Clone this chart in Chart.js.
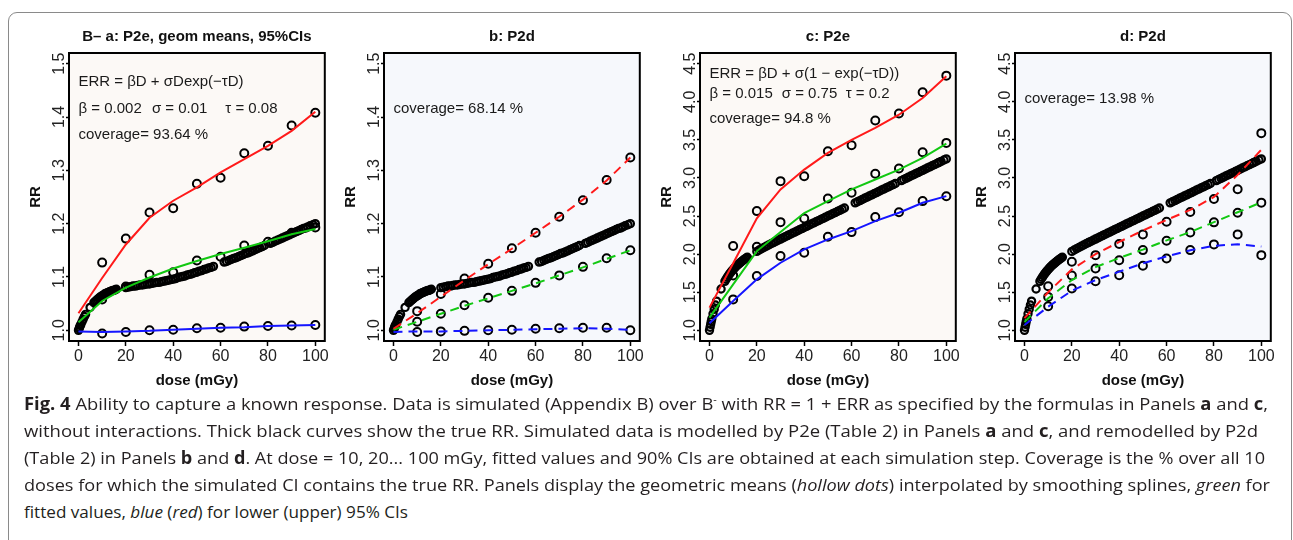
<!DOCTYPE html>
<html><head><meta charset="utf-8">
<script src="https://cdn.jsdelivr.net/npm/chart.js@4.4.0/dist/chart.umd.min.js"></script>
<style>
html,body{margin:0;padding:0;background:#fff;width:1293px;height:540px;overflow:hidden;position:relative;}
#frame{position:absolute;left:8px;top:12px;width:1284px;height:600px;border:1.5px solid #8a8a8a;border-radius:9px;box-sizing:border-box;}
canvas{position:absolute;top:20px;}
#caption{position:absolute;left:24px;top:0;font-family:"Open Sans",sans-serif;font-size:17px;color:#231f20;}
.ln{position:absolute;left:0;white-space:nowrap;transform-origin:0 50%;line-height:27px;height:27px;}
.ln b{font-weight:700;}
.ln sup{font-size:10px;line-height:0;vertical-align:7px;}
</style></head><body>
<div id="frame"></div>
<canvas id="ca" width="313" height="371" style="left:18px"></canvas>
<canvas id="cb" width="313" height="371" style="left:333px"></canvas>
<canvas id="cc" width="313" height="371" style="left:649px"></canvas>
<canvas id="cd" width="313" height="371" style="left:964px"></canvas>
<div id="caption">
<div class="ln" data-w="1244" style="top:390px"><b>Fig. 4</b> Ability to capture a known response. Data is simulated (Appendix B) over B<sup>-</sup> with RR = 1 + ERR as specified by the formulas in Panels <b>a</b> and <b>c</b>,</div>
<div class="ln" data-w="1234" style="top:417px">without interactions. Thick black curves show the true RR. Simulated data is modelled by P2e (Table 2) in Panels <b>a</b> and <b>c</b>, and remodelled by P2d</div>
<div class="ln" data-w="1241" style="top:444px">(Table 2) in Panels <b>b</b> and <b>d</b>. At dose = 10, 20... 100 mGy, fitted values and 90% CIs are obtained at each simulation step. Coverage is the % over all 10</div>
<div class="ln" data-w="1246" style="top:471px">doses for which the simulated CI contains the true RR. Panels display the geometric means (<i>hollow dots</i>) interpolated by smoothing splines, <i>green</i> for</div>
<div class="ln" data-w="384" style="top:498px">fitted values, <i>blue</i> (<i>red</i>) for lower (upper) 95% CIs</div>
</div>
<script>
// ---------------- data ----------------
const X_TICKS = [0, 20, 40, 60, 80, 100];
const Y_TICKS_AB = [1.0, 1.1, 1.2, 1.3, 1.4, 1.5];
const Y_TICKS_CD = [1.0, 1.5, 2.0, 2.5, 3.0, 3.5, 4.0, 4.5];
const LINE_DOSES = [0, 10, 20, 30, 40, 50, 60, 70, 80, 90, 100];
const MEAN_DOSES = [10, 20, 30, 40, 50, 60, 70, 80, 90, 100];

// true RR (thick black curve made of many hollow points)
const TRUE_DOSE = [0,0.25,0.5,0.75,1,1.5,2,2.5,3,4.9,
 6.5,7,7.5,8,8.5,9,9.5,10,10.5,11,11.5,12,12.5,13,13.5,14,14.5,15,15.5,16,
 20,21,22,23,24,25,26,27,28,29,30,31,32,33,34,35,36,37,38,39,40,41,42,43,44,45,46,47,48,49,50,51,52,53,54,55,56,57,
 61.5,62.5,63.5,64.5,65.5,66.5,67.5,68.5,69.5,70.5,71.5,72.5,73.5,74.5,75.5,76.5,77.5,78.5,
 81,82,83,84,85,86,87,88,89,90,91,92,93,94,95,96,96.8,97.8,99,100];
const TRUE_RR_AB = [1.000,1.003,1.006,1.009,1.011,1.016,1.021,1.026,1.030,1.043,
 1.052,1.054,1.056,1.058,1.060,1.062,1.063,1.065,1.066,1.068,1.069,1.070,1.071,1.072,1.073,1.074,1.075,1.075,1.076,1.077,
 1.080,1.081,1.082,1.083,1.083,1.084,1.085,1.085,1.086,1.087,1.087,1.088,1.089,1.090,1.090,1.091,1.092,1.093,1.094,1.095,1.096,1.097,1.099,1.100,1.101,1.102,1.104,1.105,1.106,1.108,1.109,1.111,1.112,1.114,1.115,1.117,1.118,1.120,
 1.128,1.129,1.131,1.133,1.135,1.136,1.138,1.140,1.142,1.144,1.145,1.147,1.149,1.151,1.153,1.155,1.157,1.159,
 1.163,1.165,1.167,1.169,1.171,1.173,1.175,1.177,1.179,1.181,1.183,1.185,1.187,1.189,1.191,1.192,1.194,1.196,1.198,1.200];
const TRUE_RR_CD = [1.000,1.040,1.079,1.116,1.151,1.217,1.277,1.333,1.383,1.542,
 1.643,1.670,1.695,1.719,1.741,1.761,1.780,1.799,1.816,1.832,1.847,1.862,1.876,1.889,1.902,1.914,1.926,1.938,1.949,1.959,
 2.036,2.054,2.071,2.087,2.104,2.120,2.136,2.152,2.167,2.183,2.198,2.214,2.229,2.244,2.259,2.274,2.289,2.305,2.320,2.335,2.350,2.365,2.380,2.395,2.410,2.425,2.440,2.455,2.470,2.485,2.500,2.515,2.530,2.545,2.560,2.575,2.590,2.605,
 2.673,2.688,2.703,2.718,2.733,2.748,2.763,2.778,2.793,2.808,2.823,2.838,2.853,2.868,2.883,2.898,2.913,2.928,
 2.965,2.980,2.995,3.010,3.025,3.040,3.055,3.070,3.085,3.100,3.115,3.130,3.145,3.160,3.175,3.190,3.202,3.217,3.235,3.250];

// panel a (P2e fit of true model a)
const A_UP_PTS  = [1.127,1.172,1.221,1.229,1.275,1.286,1.332,1.346,1.384,1.408];
const A_UP_LINE = [1.032,1.098,1.161,1.211,1.243,1.268,1.296,1.321,1.346,1.374,1.410];
const A_FIT_PTS = [1.058,1.082,1.104,1.109,1.131,1.138,1.159,1.166,1.183,1.193];
const A_FIT_LINE= [1.015,1.055,1.080,1.099,1.116,1.130,1.143,1.155,1.167,1.180,1.190];
const A_LO_PTS  = [0.994,0.997,1.000,1.001,1.004,1.005,1.007,1.008,1.009,1.010];
const A_LO_LINE = [0.998,0.997,0.998,0.999,1.001,1.003,1.005,1.006,1.008,1.009,1.010];
// panel b (P2d)
const B_UP_PTS  = [1.036,1.068,1.097,1.125,1.154,1.183,1.213,1.244,1.282,1.324];
const B_UP_LINE = [1.003,1.032,1.063,1.094,1.124,1.153,1.183,1.213,1.245,1.281,1.324];
const B_FIT_PTS = [1.016,1.031,1.047,1.061,1.074,1.089,1.103,1.119,1.135,1.150];
const B_FIT_LINE= [1.001,1.016,1.031,1.046,1.060,1.074,1.088,1.103,1.118,1.134,1.150];
const B_LO_PTS  = [0.997,0.998,0.999,1.000,1.001,1.003,1.004,1.005,1.005,1.000];
const B_LO_LINE = [0.997,0.998,0.998,0.999,1.000,1.001,1.002,1.003,1.004,1.003,1.001];
// panel c (P2e)
const C_UP_PTS  = [2.106,2.565,2.958,3.023,3.351,3.430,3.753,3.845,4.125,4.343];
const C_UP_LINE = [1.298,1.880,2.470,2.850,3.110,3.330,3.500,3.657,3.830,4.050,4.335];
const C_FIT_PTS = [1.721,2.097,2.420,2.468,2.730,2.805,3.054,3.124,3.338,3.460];
const C_FIT_LINE= [1.166,1.603,2.040,2.290,2.540,2.696,2.850,2.980,3.110,3.264,3.450];
const C_LO_PTS  = [1.406,1.712,1.975,2.018,2.228,2.289,2.486,2.551,2.696,2.761];
const C_LO_LINE = [1.092,1.385,1.669,1.887,2.062,2.193,2.302,2.433,2.543,2.674,2.761];
// panel d (P2d)
const D_UP_PTS  = [1.579,1.899,1.987,2.132,2.259,2.426,2.553,2.724,2.851,3.588];
const D_UP_LINE = [1.16,1.50,1.80,2.00,2.16,2.31,2.45,2.58,2.75,3.04,3.37];
const D_FIT_PTS = [1.439,1.720,1.812,1.921,2.053,2.176,2.285,2.417,2.544,2.676];
const D_FIT_LINE= [1.11,1.42,1.66,1.83,1.95,2.06,2.18,2.29,2.42,2.55,2.68];
const D_LO_PTS  = [1.316,1.549,1.645,1.724,1.847,1.943,2.053,2.128,2.259,1.987];
const D_LO_LINE = [1.07,1.31,1.52,1.66,1.77,1.88,1.97,2.05,2.11,2.13,2.10];

// ---------------- drawing ----------------
const FONT = "'Liberation Sans', Arial, Helvetica, sans-serif";
const RED = '#ff1a1a', GREEN = '#12c812', BLUE = '#1515ff';
const pts = (xs, ys) => xs.map((x, i) => ({x, y: ys[i]}));

const boxPlugin = {
  id: 'rbox',
  beforeDraw(chart, args, opts) {
    const {ctx, chartArea: a} = chart;
    ctx.save(); ctx.fillStyle = opts.bg;
    ctx.fillRect(a.left, a.top, a.width, a.height); ctx.restore();
  },
  afterDraw(chart, args, opts) {
    const {ctx, chartArea: a, scales} = chart;
    ctx.save();
    ctx.fillStyle = '#1a1a1a'; ctx.font = '15px ' + FONT;
    ctx.textBaseline = 'middle'; ctx.textAlign = 'left';
    for (const t of opts.texts) ctx.fillText(t.s, scales.x.getPixelForValue(t.x), scales.y.getPixelForValue(t.y));
    ctx.strokeStyle = '#000'; ctx.lineWidth = 2;
    ctx.strokeRect(a.left, a.top, a.width, a.height);
    ctx.restore();
  }
};

function makePanel(id, p) {
  const dash = p.dashed ? [9, 6] : [];
  const lineDs = (ys, color) => ({data: pts(LINE_DOSES, ys), showLine: true, borderColor: color, borderWidth: 2,
    borderDash: dash, pointRadius: 0, tension: 0, fill: false, order: 1});
  const meanDs = ys => ({data: pts(MEAN_DOSES, ys), showLine: false, pointRadius: 4, pointBorderWidth: 2,
    pointBorderColor: '#000', pointBackgroundColor: 'rgba(0,0,0,0)', order: 2});
  new Chart(document.getElementById(id), {
    type: 'scatter',
    data: {datasets: [
      {data: pts(TRUE_DOSE, p.trueRR), showLine: false, pointRadius: 3.6, pointBorderWidth: 2.2,
        pointBorderColor: '#000', pointBackgroundColor: 'rgba(0,0,0,0)', order: 3},
      meanDs(p.up), meanDs(p.fit), meanDs(p.lo),
      lineDs(p.upLine, RED), lineDs(p.fitLine, GREEN), lineDs(p.loLine, BLUE)
    ]},
    options: {
      responsive: false, animation: false, devicePixelRatio: 1,
      layout: {padding: {left: 0, right: 6, top: 0, bottom: 0}},
      plugins: {
        legend: {display: false}, tooltip: {enabled: false},
        title: {display: true, text: p.title, fullSize: false, color: '#111',
          font: {family: FONT, size: 15, weight: 'bold'}, padding: {top: 8, bottom: 7}},
        rbox: {bg: p.bg, texts: p.texts}
      },
      scales: {
        x: {type: 'linear', min: -4, max: 104,
          afterBuildTicks: s => { s.ticks = X_TICKS.map(v => ({value: v})); },
          afterFit: s => { s.height = 50; },
          grid: {display: true, drawOnChartArea: false, drawTicks: true, tickLength: 5, tickWidth: 1.5, tickColor: '#000'},
          border: {display: false},
          ticks: {color: '#222', font: {family: FONT, size: 16}, padding: 1.4, maxRotation: 0, minRotation: 0, autoSkip: false},
          title: {display: true, text: 'dose (mGy)', color: '#111', font: {family: FONT, size: 15, weight: 'bold'}, padding: {top: 0, bottom: 1}}
        },
        y: {type: 'linear', min: p.yMin, max: p.yMax,
          afterBuildTicks: s => { s.ticks = p.yTicks.map(v => ({value: v})); },
          afterFit: s => { s.width = 51; },
          grid: {display: true, drawOnChartArea: false, drawTicks: true, tickLength: 3, tickWidth: 1.5, tickColor: '#000'},
          border: {display: false},
          ticks: {color: '#222', font: {family: FONT, size: 16}, padding: -5.1, minRotation: 90, maxRotation: 90,
            crossAlign: 'center', autoSkip: false, callback: v => Number(v).toFixed(1)},
          title: {display: true, text: 'RR', color: '#111', font: {family: FONT, size: 15, weight: 'bold'}, padding: {top: 9, bottom: 0}}
        }
      }
    },
    plugins: [boxPlugin]
  });
}

const BG_E = '#fcf9f6', BG_D = '#f6f8fc';
makePanel('ca', {title: 'B\u2013 a: P2e, geom means, 95%CIs', bg: BG_E, dashed: false, yMin: 0.98, yMax: 1.52, yTicks: Y_TICKS_AB,
  trueRR: TRUE_RR_AB, up: A_UP_PTS, fit: A_FIT_PTS, lo: A_LO_PTS, upLine: A_UP_LINE, fitLine: A_FIT_LINE, loLine: A_LO_LINE,
  texts: [{s: 'ERR = \u03B2D + \u03C3Dexp(\u2212\u03C4D)', x: 0, y: 1.465}, {s: '\u03B2 = 0.002', x: 0, y: 1.415},
          {s: '\u03C3 = 0.01', x: 31, y: 1.415}, {s: '\u03C4 = 0.08', x: 62, y: 1.415}, {s: 'coverage= 93.64 %', x: 0, y: 1.367}]});
makePanel('cb', {title: 'b: P2d', bg: BG_D, dashed: true, yMin: 0.98, yMax: 1.52, yTicks: Y_TICKS_AB,
  trueRR: TRUE_RR_AB, up: B_UP_PTS, fit: B_FIT_PTS, lo: B_LO_PTS, upLine: B_UP_LINE, fitLine: B_FIT_LINE, loLine: B_LO_LINE,
  texts: [{s: 'coverage= 68.14 %', x: 0, y: 1.415}]});
makePanel('cc', {title: 'c: P2e', bg: BG_E, dashed: false, yMin: 0.86, yMax: 4.64, yTicks: Y_TICKS_CD,
  trueRR: TRUE_RR_CD, up: C_UP_PTS, fit: C_FIT_PTS, lo: C_LO_PTS, upLine: C_UP_LINE, fitLine: C_FIT_LINE, loLine: C_LO_LINE,
  texts: [{s: 'ERR = \u03B2D + \u03C3(1 \u2212 exp(\u2212\u03C4D))', x: 0, y: 4.37}, {s: '\u03B2 = 0.015', x: 0, y: 4.11},
          {s: '\u03C3 = 0.75', x: 30.5, y: 4.11}, {s: '\u03C4 = 0.2', x: 57.5, y: 4.11}, {s: 'coverage= 94.8 %', x: 0, y: 3.78}]});
makePanel('cd', {title: 'd: P2d', bg: BG_D, dashed: true, yMin: 0.86, yMax: 4.64, yTicks: Y_TICKS_CD,
  trueRR: TRUE_RR_CD, up: D_UP_PTS, fit: D_FIT_PTS, lo: D_LO_PTS, upLine: D_UP_LINE, fitLine: D_FIT_LINE, loLine: D_LO_LINE,
  texts: [{s: 'coverage= 13.98 %', x: 0, y: 4.04}]});

// fit caption lines to the reference line lengths
function fitCaption() {
  document.querySelectorAll('.ln').forEach(el => {
    el.style.transform = 'none';
    const w = el.getBoundingClientRect().width;
    el.style.transform = 'scaleX(' + (parseFloat(el.dataset.w) / w) + ')';
  });
}
fitCaption();
if (document.fonts && document.fonts.ready) document.fonts.ready.then(fitCaption);
</script>
</body></html>
